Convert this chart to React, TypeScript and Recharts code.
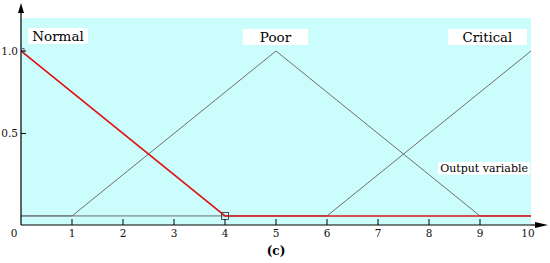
import React from 'react';
import {
  LineChart, Line, XAxis, YAxis, CartesianGrid, ReferenceArea,
} from 'recharts';

// ---- data ----
const xTicks = [0, 1, 2, 3, 4, 5, 6, 7, 8, 9, 10];
const yTicks = [0.5, 1.0];
const yTickLabels = ['0.5', '1.0'];

const normalX = [0, 4, 10];
const normalY = [1, 0, 0];
const poorX = [0, 1, 5, 9, 10];
const poorY = [0, 0, 1, 0, 0];
const criticalX = [0, 6, 10];
const criticalY = [0, 0, 1];

const labelNames = ['Normal', 'Poor', 'Critical'];
const outputLabel = 'Output variable';
const caption = '(c)';

const toRows = (xs: number[], ys: number[]) => xs.map((x, i) => ({ x, y: ys[i] }));
const normalData = toRows(normalX, normalY);
const poorData = toRows(poorX, poorY);
const criticalData = toRows(criticalX, criticalY);

const Y_MIN = -0.055;
const Y_MAX = 1.2;
const FONT = 'DejaVu Serif';
const BG = '#ccfdfd';
const RED = '#dd1515';
const GRAY = '#6e6e6e';

const BottomTick = (props: any) => {
  const { x, y, payload } = props;
  const v = payload.value;
  const corner = v === 0 || v === 10;
  const dx = v === 0 ? -7 : v === 10 ? -3 : 0;
  return (
    <g>
      {!corner && <line x1={x} y1={y} x2={x} y2={y - 6} stroke="#000" strokeWidth={1} />}
      <text x={x + dx} y={y + 11.5} textAnchor="middle" fontSize={10.5} fontFamily={FONT} fill="#111">
        {String(v)}
      </text>
      {v === 10 && (
        <g>
          <line x1={x} y1={y} x2={x + 5} y2={y} stroke="#000" strokeWidth={1.2} />
          <polygon points={`${x + 4},${y - 3} ${x + 17},${y} ${x + 4},${y + 3}`} fill="#000" />
        </g>
      )}
    </g>
  );
};

const TopTick = (props: any) => {
  const { x, y, payload } = props;
  const v = payload.value;
  if (v === 0 || v === 10) return <g />;
  return <line x1={x} y1={y} x2={x} y2={y + 5} stroke="#000" strokeWidth={1} />;
};

const LeftTick = (props: any) => {
  const { x, y, payload } = props;
  const v = payload.value;
  if (v === Y_MAX) {
    return (
      <g>
        <line x1={x} y1={y} x2={x} y2={y - 6} stroke="#000" strokeWidth={1.2} />
        <polygon points={`${x - 3},${y - 5} ${x},${y - 15} ${x + 3},${y - 5}`} fill="#000" />
      </g>
    );
  }
  const idx = yTicks.indexOf(v);
  return (
    <g>
      <line x1={x} y1={y} x2={x + 5} y2={y} stroke="#000" strokeWidth={1} />
      <text x={x - 3} y={y + 4} textAnchor="end" fontSize={10.5} fontFamily={FONT} fill="#111">
        {idx >= 0 ? yTickLabels[idx] : ''}
      </text>
    </g>
  );
};

const renderNormalDot = (props: any) => {
  const { cx, cy, index } = props;
  const key = `d-${index}`;
  if (index === 0) {
    return <rect key={key} x={cx - 1} y={cy - 2.5} width={4} height={4} fill="none" stroke="#555" strokeWidth={0.8} />;
  }
  if (index === 1) {
    return <rect key={key} x={cx - 3.5} y={cy - 3.5} width={7} height={7} fill="none" stroke="#444" strokeWidth={0.9} />;
  }
  return <g key={key} />;
};

const boxLabel = (value: string, size: number) => ({
  value,
  position: 'center' as const,
  fill: '#000',
  fontSize: size,
  fontFamily: FONT,
});

export default function App() {
  return (
    <div style={{ position: 'absolute', left: 0, top: 0, width: 550, height: 263, background: '#fff' }}>
      <LineChart
        width={550}
        height={263}
        margin={{ top: 18, right: 19, bottom: 0, left: 0 }}
      >
        <CartesianGrid xAxisId="b" yAxisId="l" horizontal={false} vertical={false} fill={BG} fillOpacity={1} />
        <XAxis
          xAxisId="b"
          type="number"
          dataKey="x"
          domain={[0, 10]}
          ticks={xTicks}
          interval={0}
          height={38}
          tickSize={0}
          tickMargin={0}
          tickLine={false}
          axisLine={{ stroke: '#000', strokeWidth: 1.2 }}
          tick={BottomTick}
          allowDataOverflow
          label={{ value: caption, position: 'insideBottom', offset: 8, fontSize: 12, fontWeight: 'bold', fill: '#000', fontFamily: FONT }}
        />
        <XAxis
          xAxisId="t"
          orientation="top"
          type="number"
          dataKey="x"
          domain={[0, 10]}
          ticks={xTicks}
          interval={0}
          height={0}
          tickSize={0}
          tickMargin={0}
          tickLine={false}
          axisLine={{ stroke: '#000', strokeWidth: 1.2 }}
          tick={TopTick}
          allowDataOverflow
        />
        <YAxis
          yAxisId="l"
          type="number"
          domain={[Y_MIN, Y_MAX]}
          ticks={[...yTicks, Y_MAX]}
          interval={0}
          width={21}
          tickSize={0}
          tickMargin={0}
          tickLine={false}
          axisLine={{ stroke: '#000', strokeWidth: 1.2 }}
          tick={LeftTick}
          allowDataOverflow
        />
        <YAxis
          yAxisId="r"
          orientation="right"
          type="number"
          domain={[Y_MIN, Y_MAX]}
          width={0}
          tick={false}
          tickLine={false}
          axisLine={{ stroke: '#000', strokeWidth: 1.2 }}
          allowDataOverflow
        />

        <ReferenceArea xAxisId="b" yAxisId="l" x1={0.14} x2={1.31} y1={1.042} y2={1.139}
          fill="#fff" fillOpacity={1} stroke="none" label={boxLabel(labelNames[0], 13.5)} />
        <ReferenceArea xAxisId="b" yAxisId="l" x1={4.35} x2={5.63} y1={1.036} y2={1.133}
          fill="#fff" fillOpacity={1} stroke="none" label={boxLabel(labelNames[1], 13.5)} />
        <ReferenceArea xAxisId="b" yAxisId="l" x1={8.37} x2={9.92} y1={1.036} y2={1.133}
          fill="#fff" fillOpacity={1} stroke="none" label={boxLabel(labelNames[2], 13.2)} />
        <ReferenceArea xAxisId="b" yAxisId="l" x1={8.18} x2={9.98} y1={0.249} y2={0.327}
          fill="#fff" fillOpacity={1} stroke="none" label={boxLabel(outputLabel, 11)} />

        <Line xAxisId="b" yAxisId="l" data={poorData} dataKey="y" type="linear"
          stroke={GRAY} strokeWidth={1} dot={false} activeDot={false} isAnimationActive={false} />
        <Line xAxisId="b" yAxisId="l" data={criticalData} dataKey="y" type="linear"
          stroke={GRAY} strokeWidth={1} dot={false} activeDot={false} isAnimationActive={false} />
        <Line xAxisId="b" yAxisId="l" data={normalData} dataKey="y" type="linear"
          stroke={RED} strokeWidth={1.6} dot={renderNormalDot} activeDot={false} isAnimationActive={false} />
      </LineChart>
    </div>
  );
}
